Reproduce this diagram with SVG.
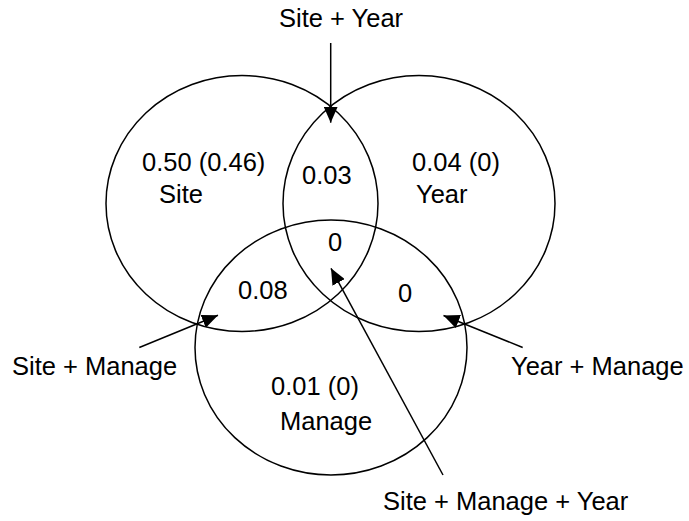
<svg xmlns="http://www.w3.org/2000/svg" width="689" height="521" viewBox="0 0 689 521">
  <style>
    .set { fill: none; stroke: #000; stroke-width: 1.5; }
    .conn { fill: none; stroke: #000; stroke-width: 1.5; }
    text { font-family: "Liberation Sans", Arial, sans-serif; font-size: 25.5px; fill: #000; }
  </style>
  <defs>
    <marker id="head" markerUnits="userSpaceOnUse" markerWidth="16" markerHeight="14" viewBox="0 0 16 14" refX="16" refY="7" orient="auto">
      <path d="M0,0 L16,7 L0,14 Z" fill="#000"/>
    </marker>
  </defs>
  <rect width="689" height="521" fill="#fff"/>

  <!-- three overlapping sets -->
  <g id="site">
    <ellipse class="set" cx="242" cy="203.5" rx="136" ry="128"/>
    <text x="142" y="171">0.50 (0.46)</text>
    <text x="159" y="203">Site</text>
  </g>
  <g id="year">
    <ellipse class="set" cx="419" cy="203.5" rx="136" ry="128"/>
    <text x="412" y="171">0.04 (0)</text>
    <text x="416" y="203">Year</text>
  </g>
  <g id="manage">
    <ellipse class="set" cx="331" cy="347.5" rx="136" ry="127.5"/>
    <text x="271" y="395">0.01 (0)</text>
    <text x="280" y="430">Manage</text>
  </g>

  <!-- overlap values -->
  <g id="site-year"><text x="302" y="184">0.03</text></g>
  <g id="site-manage"><text x="238" y="299">0.08</text></g>
  <g id="year-manage"><text x="398" y="302">0</text></g>
  <g id="all-three"><text x="328" y="251">0</text></g>

  <!-- callout labels -->
  <g id="label-site-year"><text x="279" y="27">Site + Year</text></g>
  <g id="label-site-manage"><text x="12" y="375">Site + Manage</text></g>
  <g id="label-year-manage"><text x="511" y="375">Year + Manage</text></g>
  <g id="label-all"><text x="383" y="510">Site + Manage + Year</text></g>

  <!-- pointers from labels to regions -->
  <g id="connectors">
    <line class="conn" x1="330.7" y1="43" x2="330.7" y2="122.7" marker-end="url(#head)"/>
    <line class="conn" x1="139.3" y1="347.5" x2="218" y2="315.3" marker-end="url(#head)"/>
    <line class="conn" x1="522.7" y1="347.5" x2="443.5" y2="315.5" marker-end="url(#head)"/>
    <line class="conn" x1="443" y1="475" x2="331" y2="268.3" marker-end="url(#head)"/>
  </g>
</svg>
